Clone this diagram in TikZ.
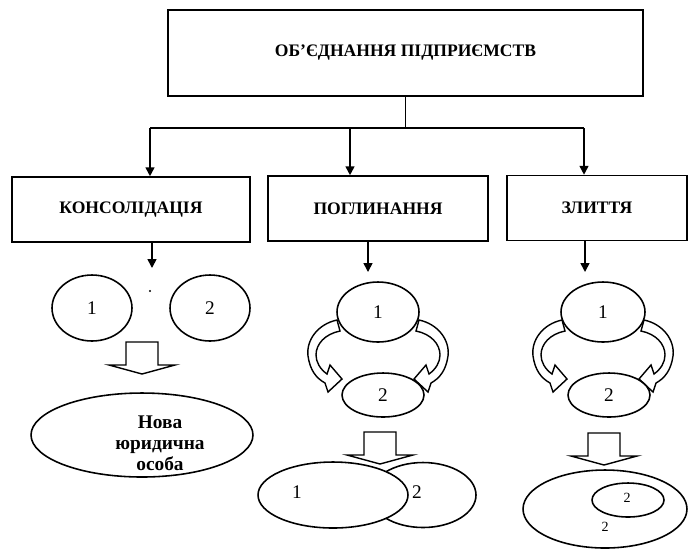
\documentclass[tikz,border=0pt]{standalone}
\usepackage{fontspec}
\setmainfont{Liberation Serif}
\usetikzlibrary{arrows.meta,shapes.geometric}

\begin{document}
\begin{tikzpicture}[
            x=0.02cm,y=-0.02cm,
            line width=0.9pt,
            box/.style={draw,minimum height=1.3cm,font=\bfseries\fontsize{10}{12}\selectfont},
            oval/.style={draw,ellipse,inner sep=0pt,font=\fontsize{11}{13}\selectfont},
            tip/.style={-{Triangle[length=5pt,width=5pt]}}
        ]
            \useasboundingbox (0,0) rectangle (688,549);

            \node[box,minimum width=9.5cm,minimum height=1.72cm] (ob) at (405.5,53) {ОБ'ЄДНАННЯ ПІДПРИЄМСТВ};
            \node[box,minimum width=4.76cm] (kons) at (131,209.5) {КОНСОЛІДАЦІЯ};
            \node[box,minimum width=4.4cm] (pogl) at (378,208.5) {ПОГЛИНАННЯ};
            \node[box,minimum width=3.6cm] (zlyt) at (597,208) {ЗЛИТТЯ};

            \coordinate (busL) at (150,128);
            \coordinate (busM) at (350,128);
            \coordinate (busR) at (584,128);
            \draw (ob.south) -- (ob.south |- busL);
            \draw (busL) -- (busR);
            \foreach \b/\n in {busL/kons,busM/pogl,busR/zlyt} {
                \draw [tip] (\b) -- (\b |- \n.north);
            }

            \coordinate (k0) at (152,268);
            \coordinate (p0) at (368,272);
            \coordinate (z0) at (585,272);
            \foreach \c/\n in {k0/kons,p0/pogl,z0/zlyt} {
                \draw [tip] (\c |- \n.south) -- (\c);
            }

            % консолідація
            \node[oval,minimum width=1.6cm,minimum height=1.32cm] (k1) at (92,308) {1};
            \node[oval,minimum width=1.6cm,minimum height=1.32cm] (k2) at (210,308) {2};
            \fill (150,291) circle (0.6pt);
            \node[oval,minimum width=4.44cm,minimum height=1.68cm] (nova) at (142,435) {};
            \node[font=\bfseries\fontsize{11}{12}\selectfont,align=center] (novaT) at (160,443) {Нова\\юридична\\особа};

            % поглинання
            \node[oval,minimum width=1.64cm,minimum height=1.2cm] (p1) at (378,312) {1};
            \node[oval,minimum width=1.64cm,minimum height=0.88cm] (p2) at (383,395) {2};
            \node[oval,minimum width=2.12cm,minimum height=1.3cm] (pB) at (423,495) {};
            \node[oval,fill=white,minimum width=3cm,minimum height=1.32cm] (pA) at (333,495) {};
            \node[font=\fontsize{11}{13}\selectfont] (pA1) at (297,492) {1};
            \node[font=\fontsize{11}{13}\selectfont] (pB2) at (417,492) {2};

            % злиття
            \node[oval,minimum width=1.68cm,minimum height=1.2cm] (z1) at (603,312) {1};
            \node[oval,minimum width=1.64cm,minimum height=0.88cm] (z2) at (609,395) {2};
            \node[oval,minimum width=3.28cm,minimum height=1.56cm] (zB) at (605,509) {};
            \node[oval,minimum width=1.44cm,minimum height=0.68cm] (zC) at (628,500) {};
            \node[font=\fontsize{8}{9}\selectfont] (zC2) at (627,498) {2};
            \node[font=\fontsize{8}{9}\selectfont] (zB2) at (605,527) {2};

            % block arrows
            \foreach \cx/\cy in {142/342,380/432,604/433} {
                \draw [line width=0.8pt] (\cx,\cy) ++(-16,0) -- ++(32,0) -- ++(0,23) -- ++(17,0) -- ++(-33,9) -- ++(-33,-9) -- ++(17,0) -- cycle;
            }

            % curved arrows
            \foreach \ex in {378,603} {
                \foreach \s in {1,-1} {
                    \draw [line width=0.8pt,shift={(\ex,312)},xscale=\s] (-41,8) .. controls (-60,12) and (-72,28) .. (-70,44)
                        .. controls (-68,58) and (-62,66) .. (-53,71) -- (-50,80) -- (-36,67) -- (-48,53) -- (-51,62)
                        .. controls (-58,57) and (-62,50) .. (-62,43) .. controls (-62,32) and (-53,22) .. (-38,19) -- cycle;
                }
            }
        \end{tikzpicture}
\end{document}
